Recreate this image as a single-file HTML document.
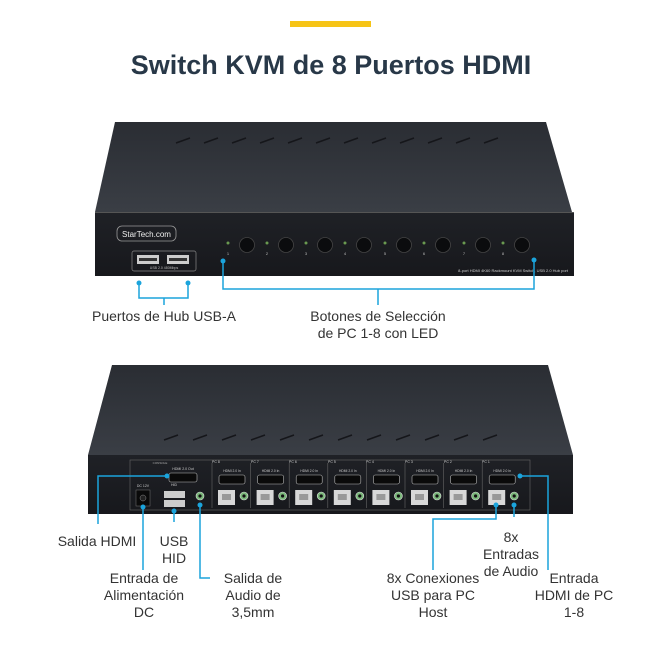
<!DOCTYPE html>
<html><head><meta charset="utf-8"><style>
html,body{margin:0;padding:0;background:#fff;width:662px;height:662px;overflow:hidden}
svg{display:block}
text{font-family:"Liberation Sans",sans-serif}
</style></head><body>
<svg width="662" height="662" viewBox="0 0 662 662" xmlns="http://www.w3.org/2000/svg">
<defs>
<linearGradient id="tg" x1="0" y1="0" x2="0" y2="1"><stop offset="0" stop-color="#2a2d33"/><stop offset="1" stop-color="#3a3e45"/></linearGradient>
<linearGradient id="fg" x1="0" y1="0" x2="0" y2="1"><stop offset="0" stop-color="#1f2126"/><stop offset="1" stop-color="#17181c"/></linearGradient>
</defs>
<rect x="290" y="21" width="81" height="6" fill="#f6c416"/>
<text x="331" y="74" text-anchor="middle" font-size="27" font-weight="bold" fill="#283848">Switch KVM de 8 Puertos HDMI</text>

<!-- top device -->
<polygon points="115,122 546,122 572,212 95,212" fill="url(#tg)"/>
<rect x="95" y="212" width="479" height="64" fill="url(#fg)"/>
<line x1="95" y1="212.5" x2="574" y2="212.5" stroke="#555" stroke-width="1"/>
<g stroke="#15161a" stroke-width="1.5">
<line x1="176" y1="143" x2="190" y2="138"/><line x1="204" y1="143" x2="218" y2="138"/><line x1="232" y1="143" x2="246" y2="138"/><line x1="260" y1="143" x2="274" y2="138"/><line x1="288" y1="143" x2="302" y2="138"/><line x1="316" y1="143" x2="330" y2="138"/><line x1="344" y1="143" x2="358" y2="138"/><line x1="372" y1="143" x2="386" y2="138"/><line x1="400" y1="143" x2="414" y2="138"/><line x1="428" y1="143" x2="442" y2="138"/><line x1="456" y1="143" x2="470" y2="138"/><line x1="484" y1="143" x2="498" y2="138"/>
</g>
<rect x="117" y="226" width="59" height="15" rx="5" fill="none" stroke="#999" stroke-width="0.8"/>
<text x="146.5" y="237" text-anchor="middle" font-size="8" fill="#eee">StarTech.com</text>
<rect x="132" y="251" width="64" height="20" rx="2" fill="none" stroke="#888" stroke-width="0.7"/>
<rect x="137" y="255" width="22" height="9" fill="#ccc"/><rect x="167" y="255" width="22" height="9" fill="#ccc"/>
<rect x="139" y="258" width="18" height="3" fill="#333"/><rect x="169" y="258" width="18" height="3" fill="#333"/>
<text x="164" y="269" text-anchor="middle" font-size="3.5" fill="#bbb">USB 2.0 480Mbps</text>
<g fill="#0b0c0e" stroke="#444" stroke-width="0.8">
<circle cx="247" cy="245" r="7.5"/><circle cx="286" cy="245" r="7.5"/><circle cx="325" cy="245" r="7.5"/><circle cx="364" cy="245" r="7.5"/><circle cx="404" cy="245" r="7.5"/><circle cx="443" cy="245" r="7.5"/><circle cx="483" cy="245" r="7.5"/><circle cx="522" cy="245" r="7.5"/>
</g>
<g fill="#6a9a50">
<circle cx="228" cy="243" r="1.5"/><circle cx="267" cy="243" r="1.5"/><circle cx="306" cy="243" r="1.5"/><circle cx="345" cy="243" r="1.5"/><circle cx="385" cy="243" r="1.5"/><circle cx="424" cy="243" r="1.5"/><circle cx="464" cy="243" r="1.5"/><circle cx="503" cy="243" r="1.5"/>
</g>
<g font-size="4" fill="#bbb" text-anchor="middle">
<text x="228" y="255">1</text><text x="267" y="255">2</text><text x="306" y="255">3</text><text x="345" y="255">4</text><text x="385" y="255">5</text><text x="424" y="255">6</text><text x="464" y="255">7</text><text x="503" y="255">8</text>
</g>
<text x="568" y="272" text-anchor="end" font-size="4" fill="#ccc">8-port HDMI 4K60 Rackmount KVM Switch, USB 2.0 Hub port</text>
<!-- top callouts -->
<g stroke="#1ba4dc" stroke-width="1.5" fill="none">
<polyline points="139,283 139,298 188,298 188,283"/><line x1="164" y1="298" x2="164" y2="305"/>
<polyline points="223,261 223,289 534,289 534,260"/><line x1="378" y1="289" x2="378" y2="305"/>
</g>
<g fill="#1ba4dc"><circle cx="139" cy="283" r="2.5"/><circle cx="188" cy="283" r="2.5"/><circle cx="223" cy="261" r="2.5"/><circle cx="534" cy="260" r="2.5"/></g>
<g font-size="14" fill="#333" text-anchor="middle">
<text x="164" y="321">Puertos de Hub USB-A</text>
<text x="378" y="321">Botones de Selección</text>
<text x="378" y="338">de PC 1-8 con LED</text>
</g>

<!-- rear device -->
<polygon points="112,365 548,365 573,455 88,455" fill="url(#tg)"/>
<rect x="88" y="455" width="485" height="59" fill="url(#fg)"/>
<g stroke="#15161a" stroke-width="1.5">
<line x1="164" y1="440" x2="178" y2="435"/><line x1="193" y1="440" x2="207" y2="435"/><line x1="222" y1="440" x2="236" y2="435"/><line x1="251" y1="440" x2="265" y2="435"/><line x1="280" y1="440" x2="294" y2="435"/><line x1="309" y1="440" x2="323" y2="435"/><line x1="338" y1="440" x2="352" y2="435"/><line x1="367" y1="440" x2="381" y2="435"/><line x1="396" y1="440" x2="410" y2="435"/><line x1="425" y1="440" x2="439" y2="435"/><line x1="454" y1="440" x2="468" y2="435"/><line x1="483" y1="440" x2="497" y2="435"/>
</g>
<rect x="130" y="460" width="400" height="50" fill="none" stroke="#666" stroke-width="0.6"/>
<rect x="169" y="473" width="28" height="9" rx="2" fill="#0a0a0a" stroke="#bbb" stroke-width="0.6"/>
<text x="183" y="470" text-anchor="middle" font-size="3.5" fill="#ccc">HDMI 2.0 Out</text>
<text x="160" y="464" text-anchor="middle" font-size="3" fill="#aaa">CONSOLE</text>
<rect x="136" y="490" width="14" height="16" fill="#0a0a0a" stroke="#777" stroke-width="0.5"/><circle cx="143" cy="498" r="3" fill="#222" stroke="#888" stroke-width="0.5"/>
<text x="143" y="487" text-anchor="middle" font-size="3.5" fill="#ccc">DC 12V</text>
<rect x="164" y="491" width="21" height="7" fill="#ccc"/><rect x="164" y="500" width="21" height="7" fill="#ccc"/>
<text x="174" y="486" text-anchor="middle" font-size="3.5" fill="#ccc">HID</text>
<circle cx="200" cy="496" r="4" fill="#7ab87a" stroke="#ddd" stroke-width="0.6"/><circle cx="200" cy="496" r="1.6" fill="#111"/>
<g id="pc">
<rect x="219" y="475" width="26" height="9" rx="2" fill="#0a0a0a" stroke="#bbb" stroke-width="0.6"/>
<rect x="218" y="490" width="17" height="15" fill="#d8d8d8"/><rect x="222" y="494" width="9" height="6" fill="#999"/>
<circle cx="244" cy="496" r="4" fill="#7ab87a" stroke="#ddd" stroke-width="0.6"/><circle cx="244" cy="496" r="1.6" fill="#111"/>
<text x="232" y="472" text-anchor="middle" font-size="3.3" fill="#ccc">HDMI 2.0 In</text>
<path d="M212 463 V508" stroke="#666" stroke-width="0.6"/>
</g>
<use href="#pc" x="38.6"/><use href="#pc" x="77.2"/><use href="#pc" x="115.8"/><use href="#pc" x="154.4"/><use href="#pc" x="193"/><use href="#pc" x="231.6"/><use href="#pc" x="270.2"/>
<g font-size="3.5" fill="#ccc">
<text x="212" y="463">PC 8</text><text x="251" y="463">PC 7</text><text x="289" y="463">PC 6</text><text x="328" y="463">PC 5</text><text x="366" y="463">PC 4</text><text x="405" y="463">PC 3</text><text x="444" y="463">PC 2</text><text x="482" y="463">PC 1</text>
</g>
<!-- rear callouts -->
<g stroke="#1ba4dc" stroke-width="1.5" fill="none">
<polyline points="167,476 98,476 98,524"/>
<line x1="143" y1="507" x2="143" y2="570"/>
<line x1="174" y1="510" x2="174" y2="522"/>
<polyline points="200,505 200,578 210,578"/>
<polyline points="496,505 496,519 433,519 433,570"/>
<line x1="514" y1="505" x2="514" y2="517"/>
<polyline points="520,476 548,476 548,570"/>
</g>
<g fill="#1ba4dc"><circle cx="167" cy="476" r="2.5"/><circle cx="143" cy="507" r="2.5"/><circle cx="174" cy="511" r="2.5"/><circle cx="200" cy="505" r="2.5"/><circle cx="496" cy="505" r="2.5"/><circle cx="514" cy="505" r="2.5"/><circle cx="520" cy="476" r="2.5"/></g>
<g font-size="14" fill="#333" text-anchor="middle">
<text x="97" y="546">Salida HDMI</text>
<text x="174" y="546">USB</text><text x="174" y="563">HID</text>
<text x="144" y="583">Entrada de</text><text x="144" y="600">Alimentación</text><text x="144" y="617">DC</text>
<text x="253" y="583">Salida de</text><text x="253" y="600">Audio de</text><text x="253" y="617">3,5mm</text>
<text x="433" y="583">8x Conexiones</text><text x="433" y="600">USB para PC</text><text x="433" y="617">Host</text>
<text x="511" y="542">8x</text><text x="511" y="559">Entradas</text><text x="511" y="576">de Audio</text>
<text x="574" y="583">Entrada</text><text x="574" y="600">HDMI de PC</text><text x="574" y="617">1-8</text>
</g>
</svg>
</body></html>
